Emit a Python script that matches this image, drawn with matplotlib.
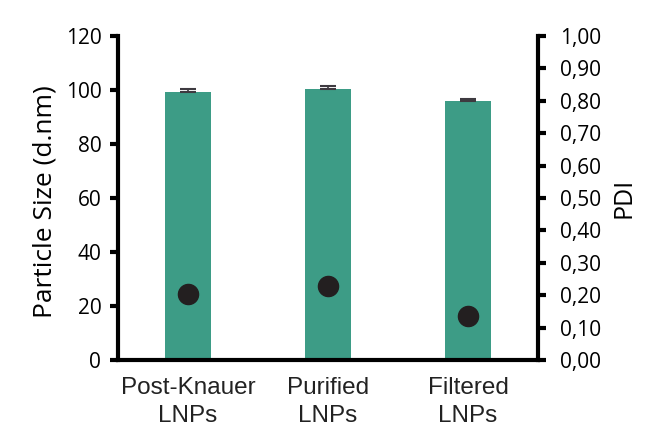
import matplotlib
matplotlib.use('Agg')
import matplotlib.pyplot as plt
from matplotlib.ticker import FuncFormatter

# data
categories = ['Post-Knauer\nLNPs', 'Purified\nLNPs', 'Filtered\nLNPs']
size_nm = [99.3, 100.4, 95.8]
size_err = [1.2, 1.2, 1.0]
pdi = [0.203, 0.228, 0.136]

bar_color = '#3d9c86'
dot_color = '#231f20'

fig = plt.figure(figsize=(6.46, 4.29), dpi=100)
ax = fig.add_axes([0.1827, 0.1608, 0.6501, 0.7552])
ax2 = ax.twinx()

x = range(len(categories))
ax.bar(x, size_nm, width=0.33, color=bar_color, zorder=2)
ax.errorbar(x, size_nm, yerr=[[0]*3, size_err], fmt='none', ecolor='#3e3a40',
            elinewidth=1.2, capsize=6, capthick=1.5, zorder=3)
ax2.scatter(x, pdi, s=210, color=dot_color, zorder=4)

ax.set_xlim(-0.5, 2.5)
ax.set_ylim(0, 120)
ax.set_yticks(range(0, 121, 20))
ax2.set_ylim(0, 1.0)
ax2.set_yticks([i/10 for i in range(11)])
ax2.yaxis.set_major_formatter(FuncFormatter(lambda v, p: f'{v:.2f}'.replace('.', ',')))

for a in (ax, ax2):
    a.spines['top'].set_visible(False)
    for s in ('left', 'right', 'bottom'):
        a.spines[s].set_linewidth(3)
    a.tick_params(axis='y', width=3, length=6, labelsize=15)
ax.tick_params(axis='y', pad=6)
ax2.tick_params(axis='y', pad=10)
ax.spines['right'].set_visible(False)
ax2.spines['left'].set_visible(False)
ax2.spines['bottom'].set_visible(False)

ax.set_xticks(list(x))
ax.set_xticklabels(categories, fontsize=17.5, linespacing=1.4, color='#222222',
                   family=['Liberation Sans Narrow', 'Liberation Sans'])
ax.tick_params(axis='x', length=0, pad=12)
for lab in ax.get_yticklabels() + ax2.get_yticklabels():
    lab.set_family('Open Sans')

ax.set_ylabel('Particle Size (d.nm)', fontsize=19, family='Open Sans')
ax.yaxis.set_label_coords(-0.145, 0.49)
ax2.set_ylabel('PDI', fontsize=18, family='Open Sans')
ax2.yaxis.set_label_coords(1.176, 0.5)

fig.savefig('out.png', dpi=100)
